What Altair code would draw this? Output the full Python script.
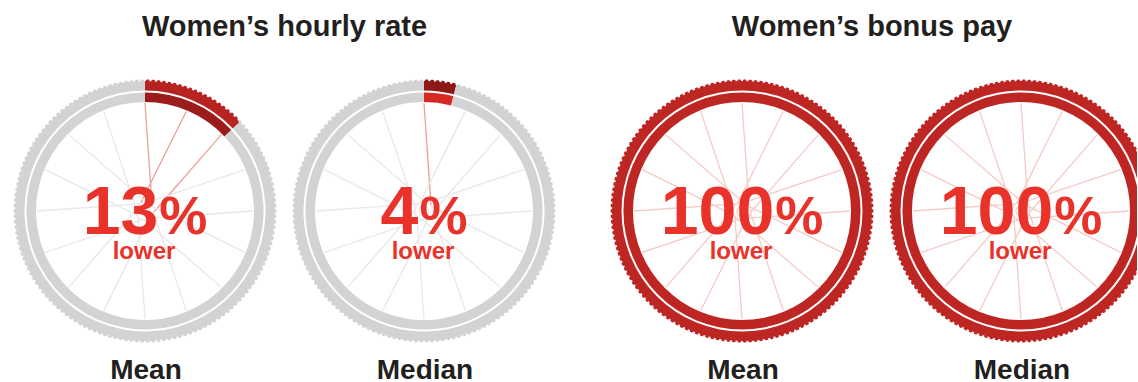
import altair as alt
import numpy as np
import pandas as pd

# ---- data ----
GROUP_TITLES = ["Women\u2019s hourly rate", "Women\u2019s bonus pay"]
MEASURES = ["Mean", "Median", "Mean", "Median"]
PCT_LOWER = [13, 4, 100, 100]
WORD = "lower"

# ---- styling ----
FONT = "Liberation Sans"
GRAY = "#d2d3d5"
SPOKE_GRAY = "#e8e8e8"
TEXT_RED = "#e8322a"
DARK = "#231f20"
TIRE_RED = ["#b62320", "#8e1717", "#bd2623", "#bd2623"]
RIM_RED = ["#9c1b1b", "#d52a22", "#bd2623", "#bd2623"]
SPOKE_RED = ["#e9a39b", "#ee9f98", "#f4cbc6", "#f4cbc6"]
N_SPOKES = 16
N_TREAD = 150
NUM_SIZE = 68
PCT_SIZE = 54
HALF = 135


def wheel(i, width):
    pct = PCT_LOWER[i]
    xs = alt.Scale(domain=[-HALF, HALF], range=[0, 2 * HALF])
    ys = alt.Scale(domain=[-HALF, HALF], range=[2 * HALF, 0])
    cx = alt.XDatum(0, scale=xs, axis=None)
    cy = alt.YDatum(0, scale=ys, axis=None)

    # spokes (rim angle k*22.5deg, hub end offset tangentially)
    rows = []
    for k in range(N_SPOKES):
        a = 2 * np.pi * k / N_SPOKES
        s = 1 if k % 2 == 0 else -1
        ah = a + s * 0.9
        inred = (np.degrees(a) <= pct * 3.6 + 0.01)
        rows.append(dict(spoke=k, px=9 * np.sin(ah), py=9 * np.cos(ah), red=int(inred), end=0))
        rows.append(dict(spoke=k, px=108 * np.sin(a), py=108 * np.cos(a), red=int(inred), end=1))
    spokes_df = pd.DataFrame(rows)
    spokes = alt.Chart(spokes_df).mark_line(strokeWidth=1.3, clip=True).encode(
        x=alt.X("px:Q", scale=xs, axis=None),
        y=alt.Y("py:Q", scale=ys, axis=None),
        detail="spoke:N",
        order="end:Q",
        color=alt.condition("datum.red == 1", alt.value(SPOKE_RED[i]), alt.value(SPOKE_GRAY)),
    )

    hub_color = SPOKE_RED[3] if pct >= 100 else SPOKE_GRAY
    hub = alt.Chart(pd.DataFrame({"h": [1]})).mark_arc(
        radius=5, radius2=9, fill="white", fillOpacity=0, stroke=hub_color, strokeWidth=1.2, clip=True
    ).encode(x=cx, y=cy, theta=alt.Theta("h:Q"))

    ring_df = pd.DataFrame({"part": ["lower", "rest"], "value": [pct, 100 - pct], "k": [0, 1]})
    tire = alt.Chart(ring_df).mark_arc(radius=120.5, radius2=130, clip=True).encode(
        x=cx, y=cy,
        theta=alt.Theta("value:Q", stack=True),
        order=alt.Order("k:Q"),
        color=alt.condition("datum.part == 'lower'", alt.value(TIRE_RED[i]), alt.value(GRAY)),
    )
    rim = alt.Chart(ring_df).mark_arc(radius=109, radius2=118.5, clip=True).encode(
        x=cx, y=cy,
        theta=alt.Theta("value:Q", stack=True),
        order=alt.Order("k:Q"),
        color=alt.condition("datum.part == 'lower'", alt.value(RIM_RED[i]), alt.value(GRAY)),
    )

    tread_df = pd.DataFrame({"t": np.arange(N_TREAD), "one": 1})
    tread = alt.Chart(tread_df).transform_calculate(
        red=f"(datum.t + 0.5) / {N_TREAD} < {pct} / 100 ? 1 : 0"
    ).mark_arc(radius=129, radius2=131.5, padAngle=0.01, cornerRadius=1.2, clip=True).encode(
        x=cx, y=cy,
        theta=alt.Theta("one:Q", stack=True),
        order=alt.Order("t:Q"),
        color=alt.condition("datum.red == 1", alt.value(TIRE_RED[i]), alt.value(GRAY)),
    )

    # centred "NN%" made of two text marks
    n = len(str(pct))
    dw = 0.556 * NUM_SIZE
    total = n * dw + 1 + 0.889 * PCT_SIZE
    right = -total / 2 + n * dw
    lab_df = pd.DataFrame({"num": [str(pct)], "pct": ["%"], "word": [WORD], "measure": [MEASURES[i]]})
    num = alt.Chart(lab_df).mark_text(
        font=FONT, fontWeight="bold", fontSize=NUM_SIZE, color=TEXT_RED,
        align="right", baseline="alphabetic", dx=right, dy=22.5
    ).encode(x=cx, y=cy, text="num:N")
    per = alt.Chart(lab_df).mark_text(
        font=FONT, fontWeight="bold", fontSize=PCT_SIZE, color=TEXT_RED,
        align="left", baseline="alphabetic", dx=right + 1, dy=22.5
    ).encode(x=cx, y=cy, text="pct:N")
    word = alt.Chart(lab_df).mark_text(
        font=FONT, fontWeight="bold", fontSize=24, color=TEXT_RED,
        align="center", baseline="alphabetic", dx=-1, dy=47.5
    ).encode(x=cx, y=cy, text="word:N")
    measure = alt.Chart(lab_df).mark_text(
        font=FONT, fontWeight="bold", fontSize=28, color=DARK,
        align="center", baseline="alphabetic", dx=1, dy=168
    ).encode(x=cx, y=cy, text="measure:N")

    return alt.layer(spokes, hub, tire, rim, tread, num, per, word, measure).resolve_scale(
        theta="independent"
    ).properties(width=width, height=304)


def group(g, widths):
    return alt.hconcat(wheel(2 * g, widths[0]), wheel(2 * g + 1, widths[1]), spacing=9).properties(
        title=alt.TitleParams(GROUP_TITLES[g], anchor="middle", font=FONT, fontWeight="bold",
                              fontSize=29, color=DARK, offset=34)
    )


chart = alt.hconcat(group(0, [270, 270]), group(1, [270, 251]), spacing=48).properties(
    padding={"left": 10, "right": 0, "top": 13, "bottom": 0}, background="white"
).configure_view(stroke=None)

chart.save("out.html", embed_options={"renderer": "svg", "actions": False})
